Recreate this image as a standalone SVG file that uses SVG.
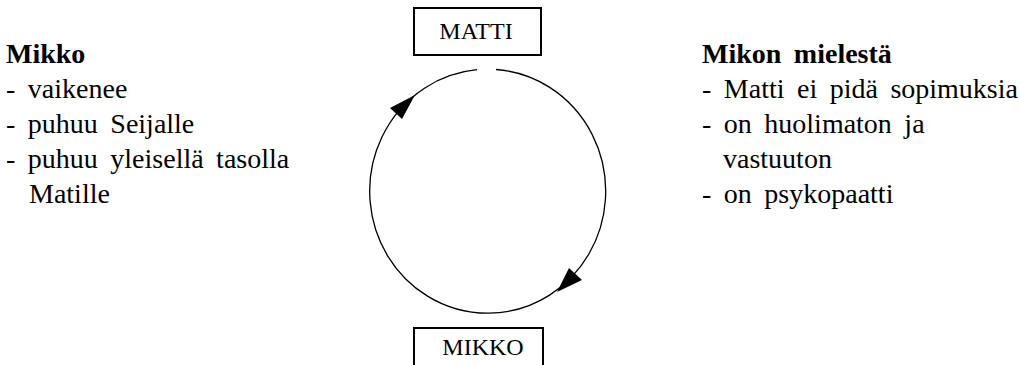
<svg xmlns="http://www.w3.org/2000/svg" width="1020" height="365" viewBox="0 0 1020 365">
<style>
.box{fill:#fff;stroke:#000;stroke-width:2}
.lbl{font-family:'Liberation Serif','DejaVu Serif',serif;font-size:24px;fill:#000;text-anchor:middle}
.txt{font-family:'Liberation Serif','DejaVu Serif',serif;font-size:28px;fill:#000;word-spacing:5.5px}
.hd{font-weight:bold}
.ring{fill:none;stroke:#000;stroke-width:1.3}
.head{fill:#000}
</style>
<rect width="1020" height="365" fill="#fff"/>
<g id="connectors">
<path class="ring" d="M 496 69.5 A 118 122 0 1 1 477 69.7"/>
<polygon class="head" points="415,95 390,108 402,119"/>
<polygon class="head" points="557,292 569,268 582,280"/>
</g>
<g id="matti">
<rect class="box" x="414" y="8" width="127" height="47"/>
<text class="lbl" x="476" y="39">MATTI</text>
</g>
<g id="mikko">
<rect class="box" x="414" y="328" width="129" height="45"/>
<text class="lbl" x="483" y="355">MIKKO</text>
</g>
<g id="mikko-text">
<text class="txt hd" x="6" y="63">Mikko</text>
<text class="txt" x="6" y="98">- vaikenee</text>
<text class="txt" x="6" y="133">- puhuu Seijalle</text>
<text class="txt" x="6" y="168">- puhuu yleisellä tasolla</text>
<text class="txt" x="29" y="203">Matille</text>
</g>
<g id="mikon-mielesta">
<text class="txt hd" x="702" y="63">Mikon mielestä</text>
<text class="txt" x="702" y="98">- Matti ei pidä sopimuksia</text>
<text class="txt" x="702" y="133">- on huolimaton ja</text>
<text class="txt" x="723" y="168">vastuuton</text>
<text class="txt" x="702" y="203">- on psykopaatti</text>
</g>
</svg>
